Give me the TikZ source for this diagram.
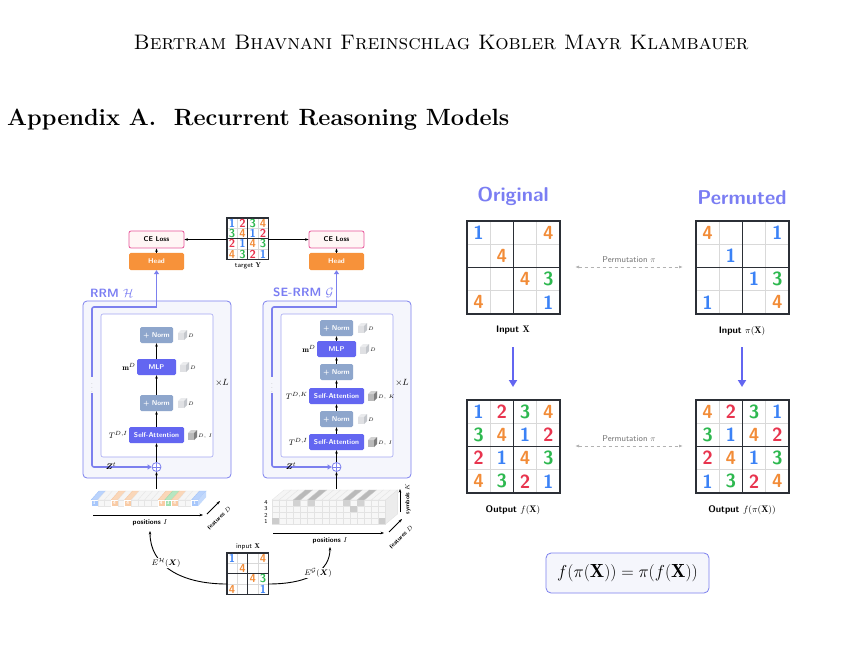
\documentclass[tikz,border=0pt]{standalone}
\usepackage{fontspec}
\usepackage{amsmath,amssymb}
\usetikzlibrary{arrows.meta,positioning}
\definecolor{d1}{HTML}{3B82F6}
\definecolor{d2}{HTML}{E8344E}
\definecolor{d3}{HTML}{2DB84F}
\definecolor{d4}{HTML}{F28C38}
\definecolor{mblue}{HTML}{6366F1}
\definecolor{nblue}{HTML}{8EA6CC}
\definecolor{pfill}{HTML}{F5F6FC}
\definecolor{pborder}{HTML}{7C80EE}
\definecolor{headc}{HTML}{F7923A}
\definecolor{cepink}{HTML}{E8559A}
\definecolor{gridc}{HTML}{2B2F36}
\definecolor{cdark}{HTML}{7F7F7F}
\definecolor{clight}{HTML}{C4C7CC}
\newcommand\sgrid[6]{%
 \begin{scope}[shift={(#2,#3)}]
 \fill[white] (0,0) rectangle (4*#4,4*#4);
 \foreach \k in {1,3}{\draw[gray!30,line width=0.6] (\k*#4,0)--(\k*#4,4*#4) (0,\k*#4)--(4*#4,\k*#4);}
 \draw[gridc,line width=1.2] (2*#4,0)--(2*#4,4*#4) (0,2*#4)--(4*#4,2*#4) (0,0) rectangle (4*#4,4*#4);
 \foreach \v [count=\i from 0] in {#5}{%
   \pgfmathtruncatemacro\cc{mod(\i,4)}\pgfmathtruncatemacro\rr{int(\i/4)}%
   \ifnum\v>0 \node[text=d\v,font=\sffamily\bfseries\fontsize{#6}{#6}\selectfont,inner sep=0] at ({(\cc+.5)*#4},{(\rr+.5)*#4}) {\v};\fi}
 \node[minimum size=4*#4,inner sep=0,outer sep=0] (#1) at (2*#4,2*#4) {};
 \end{scope}}
\newcommand\cubeic[4]{% x y color label
 \fill[#3!55!white] (#1,#2) rectangle (#1+6,#2+7);
 \fill[#3!35!white] (#1,#2)--(#1+3,#2-3)--(#1+9,#2-3)--(#1+6,#2)--cycle;
 \fill[#3] (#1+6,#2)--(#1+9,#2-3)--(#1+9,#2+4)--(#1+6,#2+7)--cycle;
 \node[font=\fontsize{5}{5}\selectfont,anchor=west,inner sep=0] at (#1+10,#2+3) {$#4$};}
\begin{document}
\begin{tikzpicture}[x=1pt,y=-1pt,
 blk/.style={rounded corners=1.5pt,minimum height=16,text=white,font=\sffamily\bfseries\fontsize{7}{7}\selectfont,inner sep=1},
 sa/.style={blk,fill=mblue,minimum width=55},
 mlp/.style={blk,fill=mblue,minimum width=39},
 nrm/.style={blk,fill=nblue,minimum width=33},
 head/.style={blk,fill=headc,minimum width=55,minimum height=17},
 ce/.style={rounded corners=2pt,draw=cepink,line width=0.8,fill=pink!15,minimum width=55,minimum height=17,font=\sffamily\bfseries\fontsize{7}{7}\selectfont},
 panel/.style={draw=pborder,line width=0.8,fill=pfill,rounded corners=4pt},
 inner/.style={draw=pborder!70,line width=0.6,fill=white,rounded corners=2pt},
 loopl/.style={pborder,line width=1.6},
 ar/.style={-{Stealth[length=3.5pt]},line width=0.9},
 lbl/.style={font=\fontsize{8}{8}\selectfont,inner sep=1},
 small/.style={font=\sffamily\bfseries\fontsize{7}{7}\selectfont,inner sep=1},
 tiny/.style={font=\sffamily\bfseries\fontsize{6}{6}\selectfont,inner sep=0.5},
 capt/.style={font=\sffamily\bfseries\fontsize{9.5}{10}\selectfont},
 perm/.style={{Latex[length=4pt]}-{Latex[length=4pt]},gray!60,dashed,line width=0.9},
 big/.style={-{Triangle[length=7pt,width=8pt]},mblue,line width=1.8}]
\useasboundingbox (0,0) rectangle (864,668);
\fill[white] (0,0) rectangle (864,668);
\node[font=\fontsize{21}{21}\selectfont] (hdr) at (441,42) {\textsc{Bertram Bhavnani Freinschlag Kobler Mayr Klambauer}};
\node[font=\fontsize{23.5}{26}\selectfont\bfseries,anchor=west,inner sep=0] (app) at (7,120) {Appendix A.\ \ Recurrent Reasoning Models};

% ---------- panels
\foreach \o/\nm in {0/a,180/b}{
 \draw[panel] (83+\o,301) rectangle (231+\o,478);
 \draw[inner] (101+\o,314) rectangle (213+\o,457);
 \node[ce] (ce\nm) at (156.5+\o,239.5) {CE Loss};
 \node[head] (head\nm) at (156.5+\o,261.5) {Head};
 \draw[ar] (head\nm.north) -- (ce\nm.south);
 \node[circle,draw=pborder,line width=0.8,fill=white,minimum size=9,inner sep=0] (plus\nm) at (156.5+\o,467) {};
 \draw[pborder,line width=0.7] (plus\nm.north)--(plus\nm.south) (plus\nm.west)--(plus\nm.east);
 \draw[loopl,rounded corners=2] (156.5+\o,307) -- (92+\o,307) -- (92+\o,467) -- (150+\o,467);
 \draw[loopl,-{Triangle[length=4pt,width=5pt]}] (140+\o,467) -- (plus\nm.west);
 \draw[loopl,-{Triangle[length=4pt,width=5pt]}] (156.5+\o,307.8) -- (head\nm.south);
 \fill[pfill] (89+\o,377) rectangle (95+\o,393);
 \node[text=gray!70,font=\fontsize{7}{7}\selectfont,inner sep=0] at (92+\o,385) {$\vdots$};
 \node[lbl] at (111+\o,466) {$\boldsymbol{Z}^t$};
 \node[lbl,font=\fontsize{9}{9}\selectfont] at (222+\o,383) {$\times L$};
 \draw[ar] (156.5+\o,489) -- (plus\nm.south);
}
\node[font=\sffamily\bfseries\fontsize{12}{12}\selectfont,text=mblue!85,anchor=west,inner sep=0] (rrm) at (90,293) {RRM $\mathcal{H}$};
\node[font=\sffamily\bfseries\fontsize{12}{12}\selectfont,text=mblue!85,anchor=west,inner sep=0] (serrm) at (273,293) {SE-RRM $\mathcal{G}$};

% RRM blocks
\node[sa] (saa) at (156.5,435) {Self-Attention};
\node[nrm] (n1a) at (156.5,403) {+ Norm};
\node[mlp] (mlpa) at (156.5,367) {MLP};
\node[nrm] (n2a) at (156.5,335) {+ Norm};
\draw[ar] (plusa.north)--(saa.south); \draw[ar] (saa.north)--(n1a.south);
\draw[ar] (n1a.north)--(mlpa.south); \draw[ar] (mlpa.north)--(n2a.south);
\node[lbl,anchor=east] at (saa.west) {$T^{D,I}$};
\node[lbl,anchor=east] at (mlpa.west) {$\mathbf{m}^{D}$};
\cubeic{188}{433}{cdark}{D,\,I}
\cubeic{178}{401}{clight}{D}
\cubeic{180}{365}{clight}{D}
\cubeic{178}{333}{clight}{D}

% SE-RRM blocks
\node[sa] (sa1b) at (336.5,442) {Self-Attention};
\node[nrm] (n1b) at (336.5,419) {+ Norm};
\node[sa] (sa2b) at (336.5,396) {Self-Attention};
\node[nrm] (n2b) at (336.5,372) {+ Norm};
\node[mlp] (mlpb) at (336.5,349) {MLP};
\node[nrm] (n3b) at (336.5,328) {+ Norm};
\draw[ar] (plusb.north)--(sa1b.south); \draw[ar] (sa1b.north)--(n1b.south);
\draw[ar] (n1b.north)--(sa2b.south); \draw[ar] (sa2b.north)--(n2b.south);
\draw[ar] (n2b.north)--(mlpb.south); \draw[ar] (mlpb.north)--(n3b.south);
\node[lbl,anchor=east] at (sa1b.west) {$T^{D,I}$};
\node[lbl,anchor=east] at (sa2b.west) {$T^{D,K}$};
\node[lbl,anchor=east] at (mlpb.west) {$\mathbf{m}^{D}$};
\cubeic{368}{440}{cdark}{D,\,I}
\cubeic{368}{394}{cdark}{D,\,K}
\cubeic{358}{417}{clight}{D}
\cubeic{360}{347}{clight}{D}
\cubeic{358}{326}{clight}{D}

% target Y
\sgrid{tY}{227}{218}{10.3}{1,2,3,4,3,4,1,2,2,1,4,3,4,3,2,1}{11.5}
\node[small,font=\sffamily\fontsize{7}{7}\selectfont] (tYl) at (248,266) {target $\mathbf{Y}$};
\draw[ar] (tY.west |- cea.east) -- (cea.east);
\draw[ar] (tY.east |- ceb.west) -- (ceb.west);

% left embedding strip
\foreach \v [count=\i from 0] in {1,0,0,4,0,4,0,0,0,0,4,3,4,0,0,1}{
  \pgfmathsetmacro\xx{91+6.7*\i}
  \ifnum\v>0
   \fill[d\v!35,draw=d\v!50,line width=0.3] (\xx,500)--(\xx+8,491)--(\xx+14.7,491)--(\xx+6.7,500)--cycle;
   \fill[d\v!45,draw=white,line width=0.3] (\xx,500) rectangle (\xx+6.7,506);
   \node[text=white,font=\sffamily\bfseries\fontsize{5}{5}\selectfont,inner sep=0] at (\xx+3.35,503) {\v};
  \else
   \fill[gray!8,draw=gray!20,line width=0.3] (\xx,500)--(\xx+8,491)--(\xx+14.7,491)--(\xx+6.7,500)--cycle;
   \fill[gray!6,draw=gray!20,line width=0.3] (\xx,500) rectangle (\xx+6.7,506);
  \fi}
\fill[d1!30] (198.2,500)--(206.2,491)--(206.2,497)--(198.2,506)--cycle;
\coordinate (pa1) at (93,515); \coordinate (pa2) at (203,515);
\draw[ar] (pa1)--(pa2);
\node[small] (posa) at (150,523) {positions $I$};
\coordinate (fa1) at (207,514); \coordinate (fa2) at (220,501);
\draw[ar] (fa1)--(fa2);
\node[tiny,rotate=45] at (219,518) {features $D$};

% right embedding stack
\foreach \L/\yy in {4/500,3/506,2/512,1/518}{
 \foreach \i in {0,...,15}{
  \pgfmathsetmacro\xx{272+7.1*\i}
  \fill[gray!6,draw=gray!22,line width=0.3] (\xx,\yy) rectangle (\xx+7.1,\yy+6);}
 \node[lbl,font=\sffamily\fontsize{6}{6}\selectfont] at (266,\yy+3) {\L};}
\foreach \i in {0,...,15}{
  \pgfmathsetmacro\xx{272+7.1*\i}
  \fill[gray!8,draw=gray!22,line width=0.3] (\xx,500)--(\xx+12,490)--(\xx+19.1,490)--(\xx+7.1,500)--cycle;}
\foreach \i in {3,5,10,12}{
  \pgfmathsetmacro\xx{272+7.1*\i}
  \fill[gray!55,draw=gray!40,line width=0.3] (\xx,500)--(\xx+12,490)--(\xx+19.1,490)--(\xx+7.1,500)--cycle;
  \fill[gray!35] (\xx,500) rectangle (\xx+7.1,506);}
\foreach \i/\yy in {0/518,15/518,11/506}{
  \pgfmathsetmacro\xx{272+7.1*\i}
  \fill[gray!40] (\xx,\yy) rectangle (\xx+7.1,\yy+6);}
\fill[gray!15,draw=gray!25,line width=0.3] (385.6,500)--(397.6,490)--(397.6,514)--(385.6,524)--cycle;
\coordinate (pb1) at (273,533); \coordinate (pb2) at (384,533);
\draw[ar] (pb1)--(pb2);
\node[small] (posb) at (330,541) {positions $I$};
\coordinate (fb1) at (389,532); \coordinate (fb2) at (402,519);
\draw[ar] (fb1)--(fb2);
\node[tiny,rotate=45] at (401,537) {features $D$};
\coordinate (sb1) at (400,512); \coordinate (sb2) at (400,489);
\draw[ar] (sb1)--(sb2);
\node[tiny,rotate=90] at (408,499) {symbols $K$};

% input X
\sgrid{inX}{227}{553}{10.3}{1,0,0,4,0,4,0,0,0,0,4,3,4,0,0,1}{11.5}
\node[small,font=\sffamily\fontsize{7}{7}\selectfont] (inXl) at (248,547) {input $\mathbf{X}$};
\coordinate (ea) at (150,531); \coordinate (eb) at (330,547);
\draw[ar] (inX.west |- 0,584) .. controls (180,584) and (150,565) .. (ea);
\draw[ar] (inX.east |- 0,584) .. controls (310,584) and (330,570) .. (eb);
\node[lbl,fill=white] at (166,563) {$E^{\mathcal H}(\boldsymbol X)$};
\node[lbl,fill=white] at (318,573) {$E^{\mathcal G}(\boldsymbol X)$};

% ---------- right part
\node[font=\sffamily\bfseries\fontsize{20}{20}\selectfont,text=mblue!85] (orig) at (513,196) {Original};
\node[font=\sffamily\bfseries\fontsize{20}{20}\selectfont,text=mblue!85] (permd) at (742,198) {Permuted};
\sgrid{gX}{467}{221}{23.25}{1,0,0,4,0,4,0,0,0,0,4,3,4,0,0,1}{19}
\sgrid{gPX}{696}{221}{23.25}{4,0,0,1,0,1,0,0,0,0,1,3,1,0,0,4}{19}
\sgrid{gfX}{467}{400}{23.25}{1,2,3,4,3,4,1,2,2,1,4,3,4,3,2,1}{19}
\sgrid{gfPX}{696}{400}{23.25}{4,2,3,1,3,1,4,2,2,4,1,3,1,3,2,4}{19}
\node[capt] (lX) at (513,330) {Input $\mathbf{X}$};
\node[capt] (lPX) at (742,331) {Input $\pi(\mathbf{X})$};
\node[capt] (lfX) at (513,510) {Output $f(\mathbf{X})$};
\node[capt] (lfPX) at (742,510) {Output $f(\pi(\mathbf{X}))$};
\draw[big] (513,347) -- (513,387);
\draw[big] (742,347) -- (742,387);
\coordinate (p1a) at (575,267); \coordinate (p1b) at (683,267);
\draw[perm] (p1a)--(p1b);
\node[font=\sffamily\fontsize{8.5}{9}\selectfont,text=gray!90!black,inner sep=1] at (629,260) {Permutation $\pi$};
\coordinate (p2a) at (575,446); \coordinate (p2b) at (683,446);
\draw[perm] (p2a)--(p2b);
\node[font=\sffamily\fontsize{8.5}{9}\selectfont,text=gray!90!black,inner sep=1] at (629,439) {Permutation $\pi$};
\node[draw=pborder,line width=0.8,fill=pfill,rounded corners=5pt,minimum width=163,minimum height=40,font=\fontsize{19}{19}\selectfont] (eq) at (627.5,573) {$f(\pi(\mathbf{X}))=\pi(f(\mathbf{X}))$};
\end{tikzpicture}
\end{document}
